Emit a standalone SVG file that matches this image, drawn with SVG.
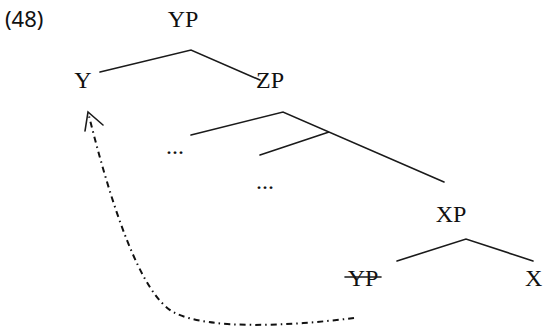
<svg xmlns="http://www.w3.org/2000/svg" width="543" height="330" viewBox="0 0 543 330">
<style>
.t{font-family:"Liberation Serif","Times New Roman",serif;font-size:24px;fill:#111}
.n{font-family:"Noto Sans","Open Sans",sans-serif;font-size:22px;fill:#111}
.e{fill:none;stroke:#1a1a1a;stroke-width:1.6;stroke-linecap:round}
.mv{fill:none;stroke:#111;stroke-width:2;stroke-dasharray:6 4 1.5 4}
</style>
<rect width="543" height="330" fill="#fff"/>
<text class="n" x="5" y="27">(48)</text>
<g id="YP"><text class="t" x="183" y="27" text-anchor="middle">YP</text></g>
<g id="Y"><text class="t" x="83" y="88" text-anchor="middle">Y</text></g>
<g id="ZP"><text class="t" x="270" y="88" text-anchor="middle">ZP</text></g>
<g id="dots1"><text class="t" x="175" y="154" text-anchor="middle">...</text></g>
<g id="dots2"><text class="t" x="265" y="189" text-anchor="middle">...</text></g>
<g id="XP"><text class="t" x="451" y="222" text-anchor="middle">XP</text></g>
<g id="YPcopy"><text class="t" x="363" y="286" text-anchor="middle">YP</text><line class="e" x1="345" y1="277" x2="381" y2="277"/></g>
<g id="X"><text class="t" x="525" y="286">X</text></g>
<g id="connectors">
<path class="e" d="M100,72 L191,50 L260,80"/>
<path class="e" d="M191,135 L283,112 L444,182 M329,132 L260,155"/>
<path class="e" d="M397,261 L466,239 L533,261"/>
<path class="mv" d="M354,318 C290,326 210,330 175,313 C140,296 110,200 89,116"/>
<path class="e" stroke-width="2.2" d="M85,131 L88,112 L103,125"/>
</g>
</svg>
